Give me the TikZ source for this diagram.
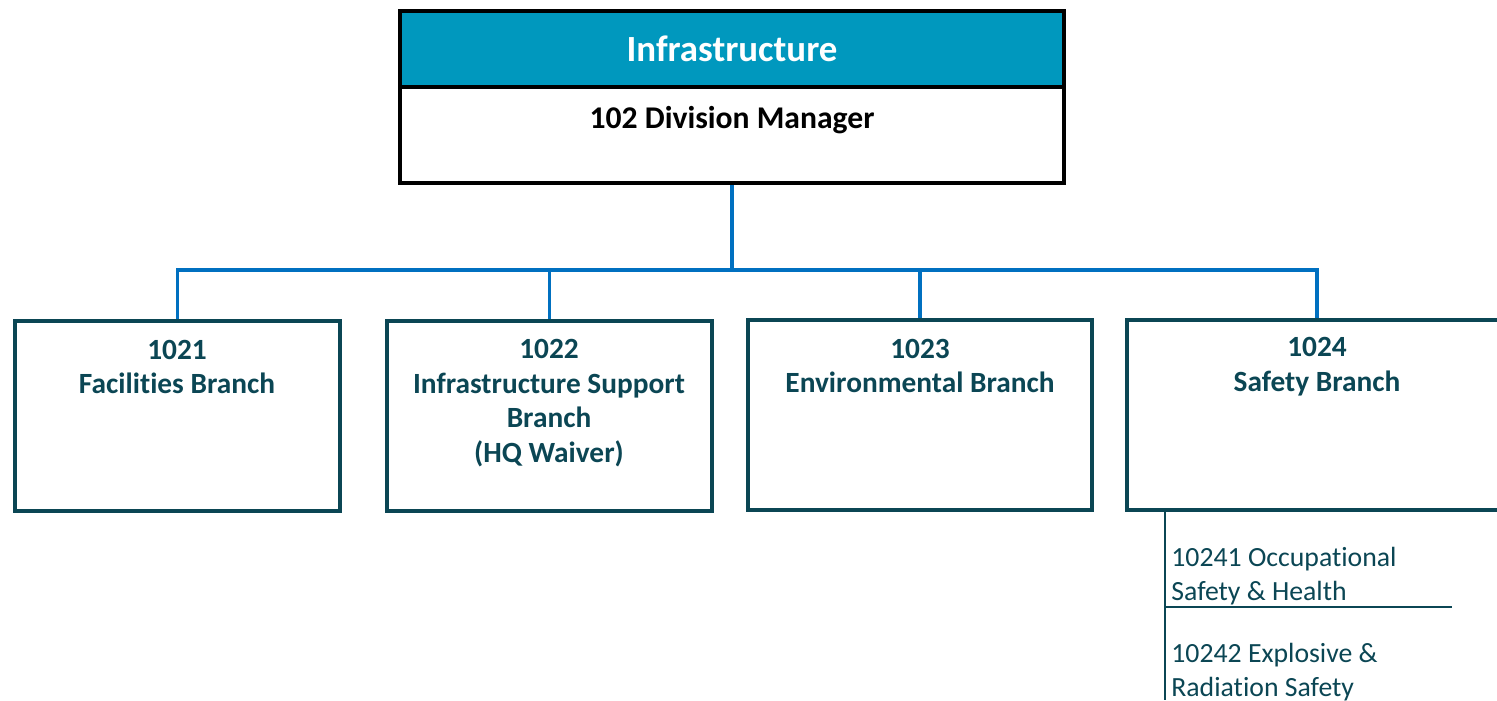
\documentclass[tikz,border=0pt]{standalone}
\usepackage{fontspec}
\setmainfont{Carlito}[Ligatures=NoCommon]
\usetikzlibrary{positioning}
\definecolor{headteal}{RGB}{0,152,190}
\definecolor{boxteal}{RGB}{11,70,84}
\definecolor{linkblue}{RGB}{0,112,192}

\begin{document}
\begin{tikzpicture}[
        x=0.02cm, y=-0.02cm,
        divbox/.style={draw=black, line width=2.4pt, minimum width=13.28cm,
            inner sep=0pt},
        branch/.style={draw=boxteal, line width=2.5pt, minimum height=3.8cm,
            inner sep=0pt},
        branch text/.style={color=boxteal, align=center, inner sep=0pt,
            font=\bfseries\fontsize{16.7}{19.8}\selectfont},
        sub text/.style={color=boxteal, align=left, inner sep=0pt,
            anchor=west, font=\fontsize{15.8}{19.3}\selectfont},
        link/.style={draw=linkblue, line width=1.9pt},
        sub line/.style={draw=boxteal, line width=1.1pt},
    ]
    \useasboundingbox (0,0) rectangle (1497,700);
    \clip (0,0) rectangle (1497,700);

    % division box
    \node[divbox, minimum height=3.44cm] (div) at (732,97) {};
    \node[divbox, fill=headteal, minimum height=1.52cm, text=white,
          font=\bfseries\fontsize{21}{25}\selectfont] (head) at (732,49)
          {\raisebox{-1.2pt}{Infrastructure}};
    \node[font=\bfseries\fontsize{18}{22}\selectfont, inner sep=0pt] (mgr)
          at (732,120) {102 Division Manager};

    % branches
    \node[branch, minimum width=6.5cm]  (b1) at (177.5,416) {};
    \node[branch, minimum width=6.5cm]  (b2) at (549.5,416) {};
    \node[branch, minimum width=6.88cm] (b3) at (920,415) {};
    \node[branch, minimum width=7.6cm]  (b4) at (1317,415) {};

    \node[branch text] (t1) at (177,367) {1021\\Facilities Branch};
    \node[branch text] (t2) at (549,403)
          {1022\\Infrastructure Support\\Branch\\(HQ Waiver)};
    \node[branch text] (t3) at (920,366) {1023\\Environmental Branch};
    \node[branch text] (t4) at (1317,367) {1024\\Safety Branch};

    % connectors
    \coordinate (bus) at (732,270);
    \draw[link] (div.south) -- (bus);
    \foreach \b in {b1,b2,b3,b4}
        \draw[link] (bus) -| (\b.north);

    % safety sections
    \coordinate (subtop) at (1165,511);
    \coordinate (subend) at (1165,700);
    \coordinate (sepl) at (1165,607);
    \coordinate (sepr) at (1452,607);
    \draw[sub line] (subtop) -- (subend);
    \draw[sub line] (sepl) -- (sepr);

    \node[sub text] (s1) at (1171,576) {10241 Occupational\\Safety \& Health};
    \node[sub text] (s2) at (1171,672) {10242 Explosive \&\\Radiation Safety};
\end{tikzpicture}
\end{document}
